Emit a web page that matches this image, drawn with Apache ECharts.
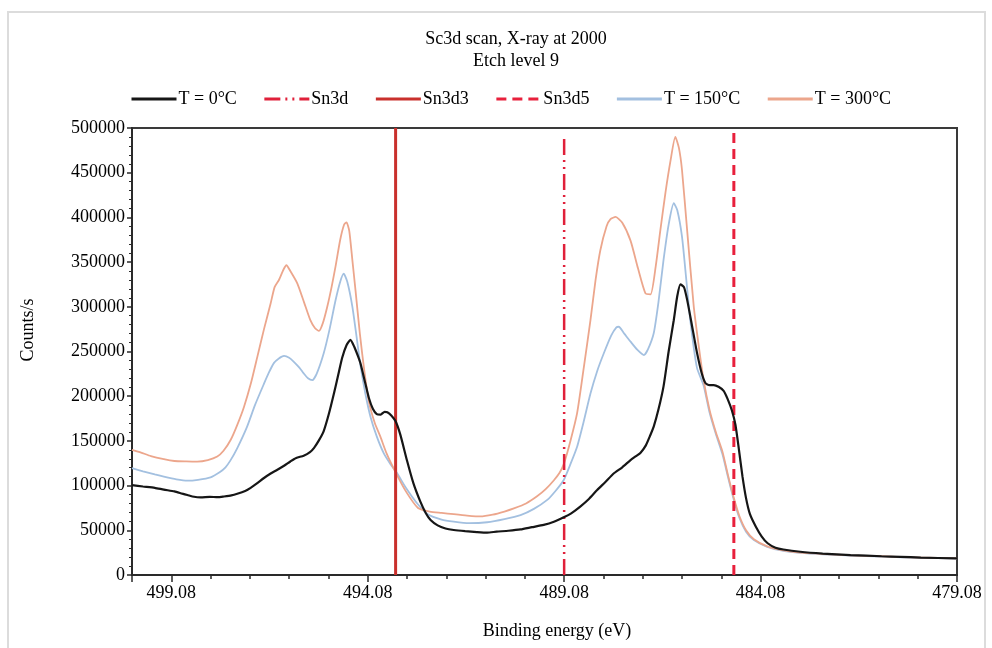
<!DOCTYPE html>
<html>
<head>
<meta charset="utf-8">
<script src="https://cdn.jsdelivr.net/npm/echarts@6/dist/echarts.min.js"></script>
<style>
  html, body { margin: 0; padding: 0; background: #fff; }
  #chart { width: 992px; height: 648px; }
</style>
</head>
<body>
<div id="chart"></div>
<script>
// Binding energy axis runs from 500.08 eV (left) down to 479.08 eV (right)
const E_MIN = 479.08;
const E_MAX = 500.08;
const X_TICK_LABELS = ['499.08', '494.08', '489.08', '484.08', '479.08'];
const Y_TICK_LABELS = ['0', '50000', '100000', '150000', '200000', '250000', '300000', '350000', '400000', '450000', '500000'];

// Reference peak positions (eV) and the top of each marker line (counts/s)
const SN3D = [489.08, 488000];
const SN3D3 = [493.37, 500000];
const SN3D5 = [484.76, 500000];

// [binding energy (eV), counts/s]
const T0 = [
  [500.08, 100500], [499.80, 99000], [499.50, 97500], [499.27, 95500], [499.00, 93500],
  [498.80, 91000], [498.67, 89500], [498.50, 87500], [498.33, 86900], [498.10, 87500],
  [497.90, 87000], [497.74, 87800], [497.55, 89000], [497.40, 90800], [497.20, 94000],
  [497.06, 97500], [496.90, 102500], [496.72, 108500], [496.55, 113500], [496.39, 117500],
  [496.20, 122500], [496.05, 127000], [495.90, 131000], [495.71, 133500], [495.55, 137500],
  [495.45, 142000], [495.33, 150000], [495.20, 161000], [495.07, 180000], [494.94, 203000],
  [494.83, 224000], [494.73, 243000], [494.62, 257000], [494.52, 263000], [494.42, 255000],
  [494.33, 245000], [494.26, 236000], [494.15, 216000], [494.05, 198000], [493.95, 186000],
  [493.85, 180000], [493.75, 179500], [493.65, 182500], [493.58, 182000], [493.48, 178500],
  [493.37, 172000], [493.25, 157000], [493.08, 128000], [492.92, 103000], [492.74, 82000],
  [492.60, 69000], [492.48, 61500], [492.30, 55500], [492.10, 52000], [491.89, 50300],
  [491.60, 49000], [491.30, 48000], [491.04, 47400], [490.80, 48500], [490.50, 49500],
  [490.19, 51000], [489.90, 53500], [489.60, 56000], [489.34, 59500], [489.09, 64500],
  [488.90, 69000], [488.67, 76500], [488.45, 85000], [488.24, 95000], [488.03, 104000],
  [487.82, 113500], [487.60, 120500], [487.39, 128500], [487.25, 133000], [487.14, 136500],
  [487.00, 145000], [486.90, 155000], [486.80, 166000], [486.68, 185000], [486.55, 211000],
  [486.42, 250000], [486.29, 285000], [486.20, 312000], [486.12, 325000], [486.03, 322000],
  [485.95, 308000], [485.83, 280000], [485.70, 249000], [485.58, 226000], [485.48, 214500],
  [485.38, 212500], [485.27, 212500], [485.15, 210500], [485.02, 206000], [484.92, 197000],
  [484.81, 184000], [484.72, 168000], [484.63, 140000], [484.54, 110000], [484.45, 86000],
  [484.35, 68000], [484.20, 54000], [484.05, 43000], [483.90, 35500], [483.70, 30500],
  [483.50, 28500], [483.07, 26000], [482.50, 24000], [481.79, 22300], [481.00, 21000],
  [480.52, 20300], [480.00, 19500], [479.08, 18500]
];

const T150 = [
  [500.08, 119500], [499.80, 116000], [499.50, 112500], [499.27, 110000], [498.95, 107000],
  [498.67, 105500], [498.40, 106500], [498.08, 109300], [497.85, 115000], [497.70, 120500],
  [497.57, 128500], [497.40, 142000], [497.15, 166000], [496.95, 190000], [496.72, 214000],
  [496.60, 226000], [496.47, 237000], [496.35, 242000], [496.21, 245000], [496.08, 243000],
  [495.96, 238500], [495.82, 232000], [495.71, 225500], [495.60, 220000], [495.49, 218000],
  [495.38, 225000], [495.20, 248000], [495.05, 275000], [494.90, 307000], [494.78, 328000],
  [494.69, 337000], [494.60, 328000], [494.47, 300000], [494.35, 262000], [494.26, 233000],
  [494.14, 203000], [494.01, 177000], [493.85, 155000], [493.67, 136000], [493.50, 124000],
  [493.33, 113700], [493.10, 97000], [492.82, 80000], [492.55, 68000], [492.20, 62000],
  [491.89, 59700], [491.50, 58000], [491.04, 59000], [490.60, 62500], [490.19, 67000],
  [489.85, 74000], [489.51, 84000], [489.30, 94000], [489.09, 106300], [488.92, 124000],
  [488.75, 143500], [488.58, 172000], [488.41, 203000], [488.24, 228000], [488.07, 248000],
  [487.88, 268000], [487.75, 277000], [487.69, 277700], [487.55, 270000], [487.39, 261000],
  [487.22, 252000], [487.05, 246000], [486.95, 252000], [486.80, 270400], [486.68, 305000],
  [486.55, 352400], [486.42, 392000], [486.29, 415800], [486.20, 408000], [486.08, 378400],
  [485.97, 330000], [485.87, 285200], [485.70, 232000], [485.53, 212000], [485.38, 182000],
  [485.22, 158000], [485.05, 135000], [484.90, 108000], [484.76, 84000], [484.62, 64000],
  [484.45, 48500], [484.25, 39000], [483.91, 31500], [483.50, 27000], [483.07, 24800],
  [482.50, 23200], [481.79, 21800], [481.00, 20700], [480.50, 19800], [480.00, 19200],
  [479.08, 18300]
];

const T300 = [
  [500.08, 140000], [499.85, 137000], [499.60, 133000], [499.27, 129500], [499.00, 127500],
  [498.70, 127000], [498.42, 126800], [498.15, 128500], [497.91, 132500], [497.75, 139000],
  [497.57, 151000], [497.40, 168000], [497.23, 188000], [497.05, 215000], [496.89, 244000],
  [496.72, 275000], [496.55, 304000], [496.45, 322000], [496.34, 330000], [496.22, 342000],
  [496.15, 346500], [496.05, 340000], [495.87, 326000], [495.70, 305000], [495.54, 285000],
  [495.42, 276000], [495.32, 273000], [495.22, 282000], [495.11, 300000], [495.00, 322000],
  [494.90, 345000], [494.78, 375000], [494.68, 392000], [494.62, 394500], [494.55, 385000],
  [494.47, 352000], [494.39, 318000], [494.28, 270000], [494.16, 226000], [494.05, 194000],
  [493.90, 170000], [493.76, 155000], [493.60, 136000], [493.36, 114000], [493.10, 93000],
  [492.80, 75000], [492.50, 71000], [492.20, 69500], [491.89, 68000], [491.55, 66500],
  [491.21, 65500], [490.90, 67500], [490.60, 71000], [490.36, 74500], [490.05, 80000],
  [489.77, 88000], [489.55, 96000], [489.34, 106000], [489.20, 114000], [489.09, 124000],
  [488.92, 150000], [488.75, 181000], [488.58, 232000], [488.41, 285000], [488.28, 330000],
  [488.16, 363000], [488.00, 390000], [487.90, 398000], [487.77, 400500], [487.60, 394000],
  [487.39, 374000], [487.20, 343000], [487.01, 315000], [486.88, 314000], [486.75, 345000],
  [486.63, 386000], [486.50, 428000], [486.37, 464000], [486.25, 490000], [486.16, 478000],
  [486.08, 453000], [485.95, 386000], [485.78, 300000], [485.65, 255000], [485.53, 218000],
  [485.38, 185000], [485.22, 160000], [485.05, 138000], [484.90, 110000], [484.76, 86000],
  [484.62, 66000], [484.45, 50000], [484.25, 40000], [483.91, 32000], [483.50, 27500],
  [483.07, 25000], [482.50, 23500], [481.79, 22000], [481.00, 21000], [480.50, 20000],
  [480.00, 19500], [479.08, 18500]
];

const FONT = 'Liberation Serif, Times New Roman, serif';
const FS = 18;

// The axis works in eV measured from E_MIN so that ticks land on whole eV steps
const toAxis = pts => pts.map(p => [+(p[0] - E_MIN).toFixed(3), p[1]]);
const marker = m => [[+(m[0] - E_MIN).toFixed(3), 0], [+(m[0] - E_MIN).toFixed(3), m[1]]];
const SPAN = +(E_MAX - E_MIN).toFixed(3);

const chart = echarts.init(document.getElementById('chart'), null, { renderer: 'canvas' });

const xBase = {
  type: 'value', gridIndex: 0, min: 0, max: SPAN, inverse: true, position: 'bottom',
  splitLine: { show: false }
};

chart.setOption({
  animation: false,
  backgroundColor: '#fff',
  textStyle: { fontFamily: FONT, color: '#000' },
  grid: {
    left: 132, right: 35, top: 128, bottom: 73,
    show: true, borderColor: '#3a3a3a', borderWidth: 2, backgroundColor: 'transparent'
  },
  legend: {
    left: 125, top: 85,
    itemWidth: 45, itemHeight: 14, itemGap: 26,
    itemStyle: { opacity: 0 },
    lineStyle: { width: 3 },
    textStyle: { fontFamily: FONT, fontSize: FS, color: '#000', padding: [0, 0, 0, -3] },
    data: ['T = 0°C', 'Sn3d', 'Sn3d3', 'Sn3d5', 'T = 150°C', 'T = 300°C']
  },
  xAxis: [
    Object.assign({}, xBase, {
      interval: 1,
      axisLine: { show: true, onZero: false, lineStyle: { color: '#2a2a2a', width: 2 } },
      axisTick: { show: true, length: 4, lineStyle: { color: '#2a2a2a', width: 1.5 } },
      axisLabel: {
        margin: 9, fontFamily: FONT, fontSize: FS, color: '#000',
        formatter: v => {
          const i = X_TICK_LABELS.indexOf((E_MIN + v).toFixed(2));
          return Math.abs(v % 5) < 1e-6 && i >= 0 ? X_TICK_LABELS[i] : '';
        }
      }
    }),
    Object.assign({}, xBase, {
      interval: 5,
      axisLine: { show: false, onZero: false },
      axisTick: { show: true, length: 7, lineStyle: { color: '#2a2a2a', width: 1.5 } },
      axisLabel: { show: false }
    })
  ],
  yAxis: {
    type: 'value', min: 0, max: 500000, interval: 50000, position: 'left',
    axisLine: { show: true, onZero: false, lineStyle: { color: '#2a2a2a', width: 2 } },
    axisTick: { show: true, length: 5, lineStyle: { color: '#2a2a2a', width: 1.5 } },
    minorTick: { show: true, splitNumber: 5, length: 3, lineStyle: { color: '#2a2a2a', width: 1 } },
    splitLine: { show: false },
    axisLabel: {
      margin: 7, fontFamily: FONT, fontSize: FS, color: '#000',
      formatter: v => Y_TICK_LABELS[Math.round(v / 50000)] || ''
    }
  },
  graphic: [
    { type: 'rect', silent: true, shape: { x: 8, y: 12, width: 977, height: 660 },
      style: { fill: 'none', stroke: '#dcdcdc', lineWidth: 2 }, z: -10 },
    { type: 'text', x: 516, y: 39, style: { text: 'Sc3d scan, X-ray at 2000', font: FS + 'px ' + FONT,
      fill: '#000', textAlign: 'center', textVerticalAlign: 'middle' } },
    { type: 'text', x: 516, y: 61, style: { text: 'Etch level 9', font: FS + 'px ' + FONT,
      fill: '#000', textAlign: 'center', textVerticalAlign: 'middle' } },
    { type: 'text', x: 28, y: 330, rotation: Math.PI / 2, style: { text: 'Counts/s', font: FS + 'px ' + FONT,
      fill: '#000', textAlign: 'center', textVerticalAlign: 'middle' } },
    { type: 'text', x: 557, y: 631, style: { text: 'Binding energy (eV)', font: FS + 'px ' + FONT,
      fill: '#000', textAlign: 'center', textVerticalAlign: 'middle' } }
  ],
  series: [
    { name: 'T = 0°C', type: 'line', xAxisIndex: 0, data: toAxis(T0), symbol: 'none', smooth: 0.2,
      lineStyle: { color: '#161616', width: 2.2 }, itemStyle: { color: '#161616' }, z: 4 },
    { name: 'Sn3d', type: 'line', xAxisIndex: 0, data: marker(SN3D), symbol: 'none',
      lineStyle: { color: '#e0203a', width: 2.5, type: [16, 5, 2, 5, 2, 5] }, itemStyle: { color: '#e0203a' }, z: 3 },
    { name: 'Sn3d3', type: 'line', xAxisIndex: 0, data: marker(SN3D3), symbol: 'none',
      lineStyle: { color: '#c9302c', width: 3 }, itemStyle: { color: '#c9302c' }, z: 3 },
    { name: 'Sn3d5', type: 'line', xAxisIndex: 0, data: marker(SN3D5), symbol: 'none',
      lineStyle: { color: '#e8203c', width: 3, type: [10, 6] }, itemStyle: { color: '#e8203c' }, z: 3 },
    { name: 'T = 150°C', type: 'line', xAxisIndex: 0, data: toAxis(T150), symbol: 'none', smooth: 0.2,
      lineStyle: { color: '#a3c0e0', width: 1.8 }, itemStyle: { color: '#a3c0e0' }, z: 2 },
    { name: 'T = 300°C', type: 'line', xAxisIndex: 0, data: toAxis(T300), symbol: 'none', smooth: 0.2,
      lineStyle: { color: '#eca68c', width: 1.8 }, itemStyle: { color: '#eca68c' }, z: 2 }
  ]
});
</script>
</body>
</html>
